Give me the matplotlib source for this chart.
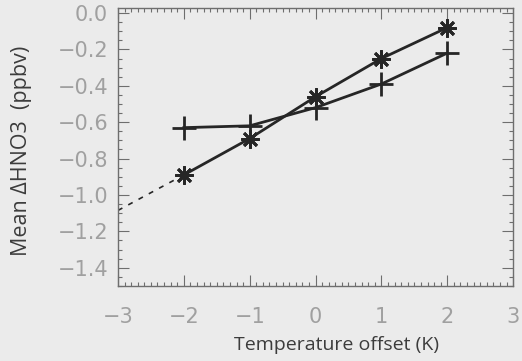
import matplotlib
matplotlib.use("Agg")
import matplotlib.pyplot as plt
from matplotlib.ticker import MultipleLocator

# Temperature offsets (K) and mean HNO3 change (ppbv) for the two runs
offsets = [-2, -1, 0, 1, 2]
hno3_star = [-0.89, -0.69, -0.46, -0.25, -0.08]
hno3_plus = [-0.63, -0.62, -0.52, -0.39, -0.22]

# dashed extrapolation of the star series towards -3 K
extrap_x = [-3, -2]
extrap_y = [-1.085, -0.89]

xticks = [-3, -2, -1, 0, 1, 2, 3]
yticks = [0.0, -0.2, -0.4, -0.6, -0.8, -1.0, -1.2, -1.4]

bg = "#ebebeb"
ink = "#262626"
tick_col = "#a0a0a0"
spine_col = "#6e6e6e"

fig = plt.figure(figsize=(5.22, 3.61), dpi=100, facecolor=bg)
ax = fig.add_axes([0.226, 0.208, 0.757, 0.771], facecolor=bg)

ax.plot(extrap_x, extrap_y, color=ink, lw=1.2, ls=(0, (3, 4)))
ax.plot(offsets, hno3_plus, color=ink, lw=2.0, marker="+", ms=17, mew=2.0)
ax.plot(offsets, hno3_star, color=ink, lw=2.0, marker=(8, 2, 0), ms=13, mew=2.0)

ax.set_xlim(-3, 3)
ax.set_ylim(-1.5, 0.03)
ax.set_xticks(xticks)
ax.set_yticks(yticks)
ax.set_xticklabels(["\u2212%d" % -v if v < 0 else "%d" % v for v in xticks])
ax.set_yticklabels(["\u2212%.1f" % -v if v < 0 else "%.1f" % v for v in yticks])
ax.xaxis.set_minor_locator(MultipleLocator(0.1))
ax.yaxis.set_minor_locator(MultipleLocator(0.05))

for s in ax.spines.values():
    s.set_color(spine_col)
    s.set_linewidth(1.0)

ax.tick_params(which="both", direction="in", top=True, right=True,
               color=spine_col, width=0.8)
ax.tick_params(which="major", length=8)
ax.tick_params(which="minor", length=3)
ax.tick_params(axis="x", which="major", labelsize=15, labelcolor=tick_col, pad=15)
ax.tick_params(axis="y", which="major", labelsize=15, labelcolor=tick_col, pad=7)
for lab in ax.get_xticklabels() + ax.get_yticklabels():
    lab.set_family("DejaVu Sans")

ax.set_xlabel("Temperature offset (K)", fontsize=14, color="#3c3c3c",
              family="Open Sans")
ax.set_ylabel("Mean \u0394HNO3  (ppbv)", fontsize=15.5, color="#3c3c3c",
              family="Open Sans")
ax.xaxis.label.set_va("center")
ax.yaxis.label.set_va("center")
ax.xaxis.set_label_coords(0.554, -0.212)
ax.yaxis.set_label_coords(-0.243, 0.485)

fig.savefig("out.png", dpi=100, facecolor=bg)
